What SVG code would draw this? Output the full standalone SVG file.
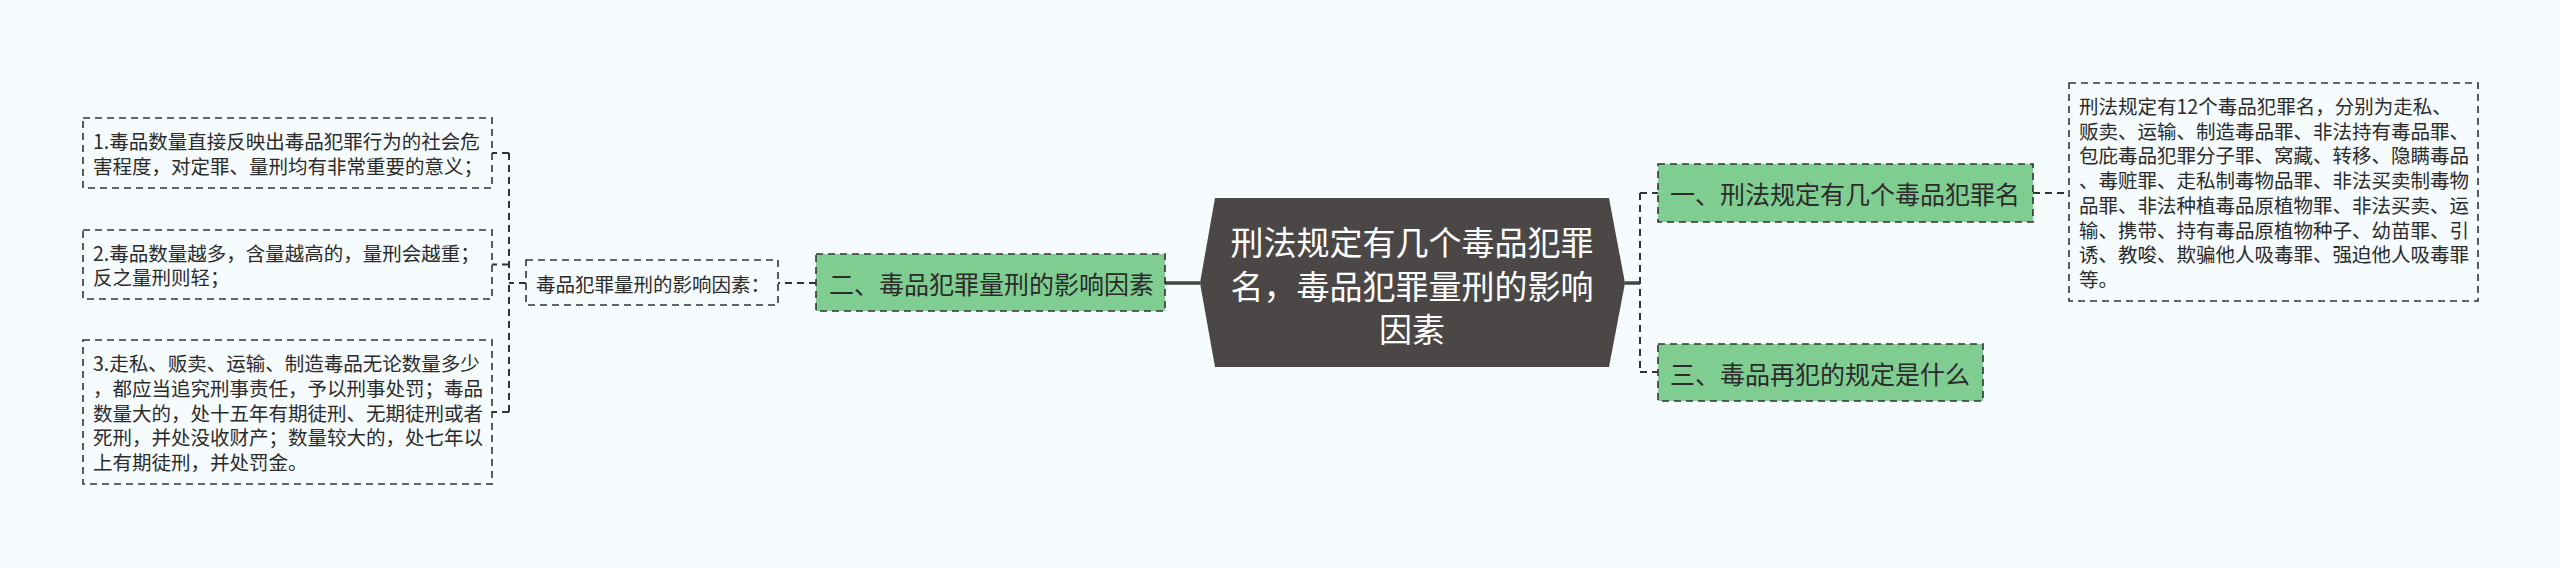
<svg xmlns="http://www.w3.org/2000/svg" width="2560" height="568" viewBox="0 0 2560 568">
<style>
.t{font-family:"Noto Sans CJK SC","Noto Sans",sans-serif;fill:#2b2b2b;dominant-baseline:central}
.s{font-size:19.5px}
.g{font-size:25px}
.c{font-size:33px;fill:#ffffff;text-anchor:middle}
.box{fill:#f6fbfe;stroke:#333;stroke-width:1.6;stroke-dasharray:7 5}
.gbox{fill:#7fcd91;stroke:#333;stroke-width:1.6;stroke-dasharray:7 5}
.dl{fill:none;stroke:#333;stroke-width:2;stroke-dasharray:7 5}
.sl{fill:none;stroke:#444;stroke-width:3.5}
</style>
<rect width="2560" height="568" fill="#f6fbfe"/>
<g id="connectors">
<path class="sl" d="M1200 283H1165"/>
<path class="sl" d="M1625 283H1640"/>
<path class="dl" d="M1640 193V372M1640 193H1658M1640 372H1658"/>
<path class="dl" d="M2033 193H2069"/>
<path class="dl" d="M816 283H778"/>
<path class="dl" d="M526 283H509"/>
<path class="dl" d="M509 153V412M509 153H492M509 264.5H492M509 412H492"/>
</g>
<g id="center">
<polygon points="1200,283 1215,198 1609,198 1625,283 1609,367 1215,367" fill="#4b4747"/>
<text class="t c" x="1412" y="241">刑法规定有几个毒品犯罪</text>
<text class="t c" x="1412" y="284.5">名，毒品犯罪量刑的影响</text>
<text class="t c" x="1412" y="328">因素</text>
</g>
<g id="node1">
<rect class="gbox" x="1658" y="164" width="375" height="58"/>
<text class="t g" x="1670" y="193">一、刑法规定有几个毒品犯罪名</text>
</g>
<g id="node3">
<rect class="gbox" x="1658" y="344" width="325" height="57"/>
<text class="t g" x="1670" y="372.5">三、毒品再犯的规定是什么</text>
</g>
<g id="node1-detail">
<rect class="box" x="2069" y="83" width="409" height="218"/>
<text class="t s" x="2079" y="105.5">刑法规定有12个毒品犯罪名，分别为走私、</text>
<text class="t s" x="2079" y="130.2">贩卖、运输、制造毒品罪、非法持有毒品罪、</text>
<text class="t s" x="2079" y="154.9">包庇毒品犯罪分子罪、窝藏、转移、隐瞒毒品</text>
<text class="t s" x="2079" y="179.6">、毒赃罪、走私制毒物品罪、非法买卖制毒物</text>
<text class="t s" x="2079" y="204.4">品罪、非法种植毒品原植物罪、非法买卖、运</text>
<text class="t s" x="2079" y="229.1">输、携带、持有毒品原植物种子、幼苗罪、引</text>
<text class="t s" x="2079" y="253.8">诱、教唆、欺骗他人吸毒罪、强迫他人吸毒罪</text>
<text class="t s" x="2079" y="278.5">等。</text>
</g>
<g id="node2">
<rect class="gbox" x="816" y="254" width="349" height="57"/>
<text class="t g" x="829" y="283">二、毒品犯罪量刑的影响因素</text>
</g>
<g id="node2-label">
<rect class="box" x="526" y="260" width="252" height="45"/>
<text class="t s" x="536" y="283">毒品犯罪量刑的影响因素：</text>
</g>
<g id="factor1">
<rect class="box" x="83" y="118" width="409" height="70"/>
<text class="t s" x="93" y="140.7">1.毒品数量直接反映出毒品犯罪行为的社会危</text>
<text class="t s" x="93" y="165.3">害程度，对定罪、量刑均有非常重要的意义；</text>
</g>
<g id="factor2">
<rect class="box" x="83" y="230" width="409" height="69"/>
<text class="t s" x="93" y="252.2">2.毒品数量越多，含量越高的，量刑会越重；</text>
<text class="t s" x="93" y="276.8">反之量刑则轻；</text>
</g>
<g id="factor3">
<rect class="box" x="83" y="340" width="409" height="144"/>
<text class="t s" x="93" y="362.6">3.走私、贩卖、运输、制造毒品无论数量多少</text>
<text class="t s" x="93" y="387.3">，都应当追究刑事责任，予以刑事处罚；毒品</text>
<text class="t s" x="93" y="412">数量大的，处十五年有期徒刑、无期徒刑或者</text>
<text class="t s" x="93" y="436.7">死刑，并处没收财产；数量较大的，处七年以</text>
<text class="t s" x="93" y="461.4">上有期徒刑，并处罚金。</text>
</g>
</svg>
